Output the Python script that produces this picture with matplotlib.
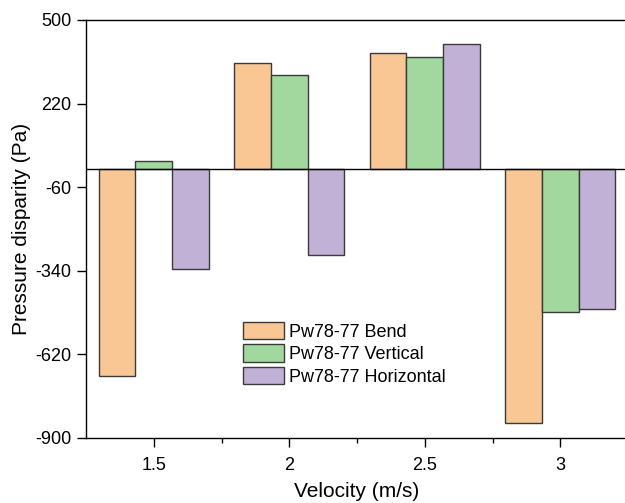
import matplotlib
matplotlib.use("Agg")
import matplotlib.pyplot as plt
import numpy as np

plt.rcParams['font.family'] = ['Liberation Sans', 'DejaVu Sans']

velocities = [1.5, 2.0, 2.5, 3.0]
tick_labels = ["1.5", "2", "2.5", "3"]
bend = [-694, 355, 388, -851]
vertical = [29, 317, 376, -477]
horizontal = [-333, -286, 420, -468]
series_names = ["Pw78-77 Bend", "Pw78-77 Vertical", "Pw78-77 Horizontal"]
colors = ["#F9C794", "#A0D89E", "#C2B1D6"]
yticks = [500, 220, -60, -340, -620, -900]

fig = plt.figure(figsize=(6.25, 5.03), dpi=100)
ax = fig.add_axes([86/625, 1-438/503, (628-86)/625, (438-20)/503])

w = 0.135
x = np.array(velocities)
for i, (vals, name, c) in enumerate(zip([bend, vertical, horizontal], series_names, colors)):
    ax.bar(x + (i-1)*w, vals, width=w, color=c, edgecolor="#3a3a3a", linewidth=1.0, label=name, zorder=2)

ax.axhline(0, color="black", linewidth=1.0, zorder=3)
ax.set_xlim(1.25, 3.25)
ax.set_ylim(-900, 500)
ax.set_yticks(yticks)
ax.set_yticklabels([str(t) for t in yticks])
ax.set_xticks(velocities)
ax.set_xticklabels(tick_labels)
ax.set_xticks([1.75, 2.25, 2.75], minor=True)
ax.tick_params(axis='both', which='major', direction='out', length=6.5, width=1.0, labelsize=13, colors='black')
ax.tick_params(axis='x', which='minor', direction='out', length=3.5, width=1.0)
ax.tick_params(axis='x', pad=7)
ax.tick_params(axis='y', pad=4)
for s in ax.spines.values():
    s.set_linewidth(1.0)

ax.set_xlabel("Velocity (m/s)", fontsize=15, labelpad=6)
ax.set_ylabel("Pressure disparity (Pa)", fontsize=15, labelpad=3)

leg = ax.legend(loc='upper left', bbox_to_anchor=((243-86)/542, (438-322)/418), frameon=False, fontsize=13,
                handlelength=2.25, handleheight=1.1, handletextpad=0.3, labelspacing=0.2, borderaxespad=0,
                borderpad=0)

fig.savefig("out.png", dpi=100)
